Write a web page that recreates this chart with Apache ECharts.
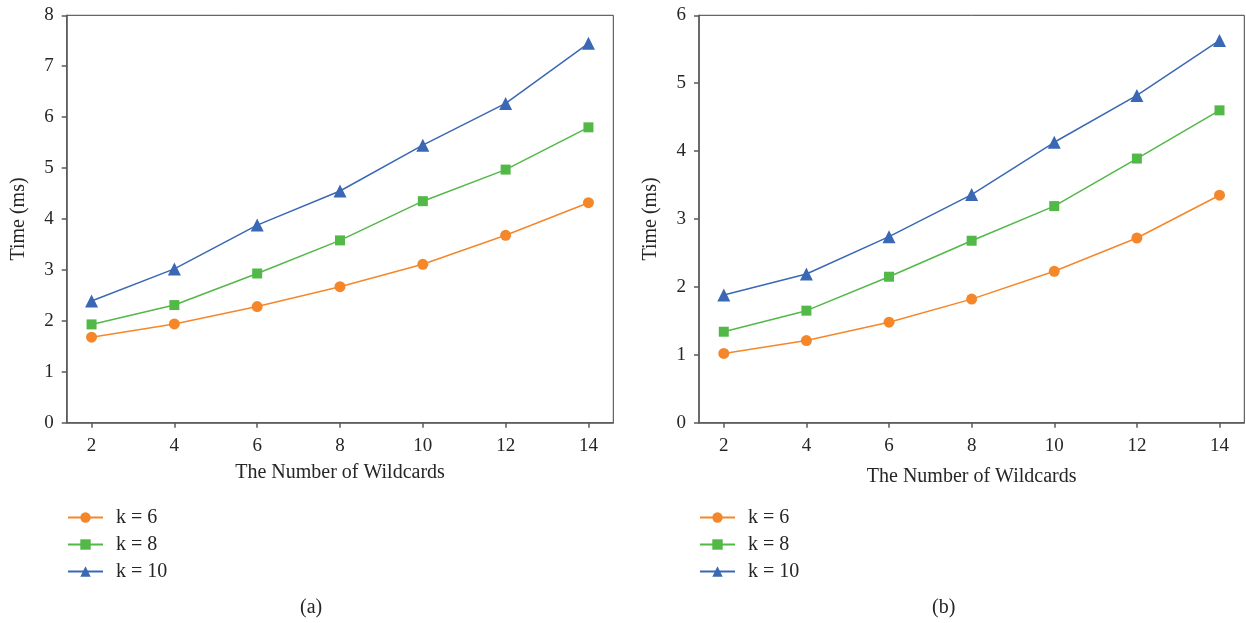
<!DOCTYPE html>
<html>
<head>
<meta charset="utf-8">
<script src="https://cdn.jsdelivr.net/npm/echarts@6/dist/echarts.min.js"></script>
<style>
html,body{margin:0;padding:0;background:#fff;}
#c{width:1246px;height:623px;}
</style>
</head>
<body>
<div id="c"></div>
<script>
// ---- data ----
const wildcards = [2, 4, 6, 8, 10, 12, 14];
const seriesNames = ['k = 6', 'k = 8', 'k = 10'];
// panel (a)
const a_k6  = [1.68, 1.94, 2.28, 2.67, 3.11, 3.68, 4.32];
const a_k8  = [1.93, 2.31, 2.93, 3.58, 4.35, 4.97, 5.80];
const a_k10 = [2.39, 3.02, 3.88, 4.55, 5.45, 6.27, 7.45];
// panel (b)
const b_k6  = [1.02, 1.21, 1.48, 1.82, 2.23, 2.72, 3.35];
const b_k8  = [1.34, 1.65, 2.15, 2.68, 3.19, 3.89, 4.60];
const b_k10 = [1.88, 2.19, 2.74, 3.36, 4.13, 4.82, 5.63];
const yTicksA = [0, 1, 2, 3, 4, 5, 6, 7, 8];
const yTicksB = [0, 1, 2, 3, 4, 5, 6];
const xTitle = 'The Number of Wildcards';
const yTitle = 'Time (ms)';
const captions = ['(a)', '(b)'];

const FONT = '"Liberation Serif", "DejaVu Serif", serif';
const TXT = '#262626';
const colors = ['#F5872A', '#52B848', '#3A68B5'];
const symbols = ['circle', 'rect', 'triangle'];
const symSizes = [11, 10, 13];

function pairs(vals) { return wildcards.map((x, i) => [x, vals[i]]); }

function xAxisFor(gi, nameGap) {
  return {
    type: 'value', gridIndex: gi, min: 1.4, max: 14.6,
    name: xTitle, nameLocation: 'middle', nameGap: nameGap,
    nameTextStyle: {fontFamily: FONT, fontSize: 20, color: TXT},
    axisLine: {show: true, lineStyle: {color: '#595959', width: 1.5}},
    axisTick: {show: true, length: 5, customValues: wildcards, lineStyle: {color: '#595959', width: 1.5}},
    axisLabel: {customValues: wildcards, fontFamily: FONT, fontSize: 19, color: TXT, margin: 14},
    splitLine: {show: false}
  };
}
function yAxisFor(gi, ticks) {
  return {
    type: 'value', gridIndex: gi, min: ticks[0], max: ticks[ticks.length - 1], interval: 1,
    name: yTitle, nameLocation: 'middle', nameGap: 38,
    nameTextStyle: {fontFamily: FONT, fontSize: 20, color: TXT},
    axisLine: {show: true, lineStyle: {color: '#595959', width: 1.5}},
    axisTick: {show: true, length: 5, lineStyle: {color: '#595959', width: 1.5}},
    axisLabel: {fontFamily: FONT, fontSize: 19, color: TXT, margin: 13},
    splitLine: {show: false}
  };
}
function mk(name, data, idx, gi) {
  return {
    name: name, type: 'line', xAxisIndex: gi, yAxisIndex: gi, data: pairs(data),
    symbol: symbols[idx], symbolSize: symSizes[idx], showSymbol: true,
    lineStyle: {color: colors[idx], width: 1.5},
    itemStyle: {color: colors[idx]},
    animation: false, z: 3 + idx
  };
}
function legendFor(left) {
  return {
    orient: 'vertical', left: left, top: 507.5, padding: 0, itemWidth: 35, itemHeight: 13, itemGap: 7,
    data: seriesNames,
    textStyle: {fontFamily: FONT, fontSize: 20, color: TXT, padding: [0, 0, 0, 8]},
    selectedMode: false
  };
}

const chart = echarts.init(document.getElementById('c'), null, {renderer: 'canvas'});
chart.setOption({
  backgroundColor: '#fff',
  animation: false,
  grid: [
    {left: 66.7, top: 15.3, width: 546.6, height: 407.4, show: true, borderColor: '#404040', borderWidth: 1, containLabel: false},
    {left: 699, top: 15.3, width: 545.3, height: 407.4, show: true, borderColor: '#404040', borderWidth: 1, containLabel: false}
  ],
  xAxis: [xAxisFor(0, 40), xAxisFor(1, 44)],
  yAxis: [yAxisFor(0, yTicksA), yAxisFor(1, yTicksB)],
  legend: [legendFor(67), legendFor(699)],
  series: [
    mk(seriesNames[0], a_k6, 0, 0), mk(seriesNames[1], a_k8, 1, 0), mk(seriesNames[2], a_k10, 2, 0),
    mk(seriesNames[0], b_k6, 0, 1), mk(seriesNames[1], b_k8, 1, 1), mk(seriesNames[2], b_k10, 2, 1)
  ],
  graphic: [
    {type: 'text', left: 300, top: 598, style: {text: captions[0], font: '20px ' + FONT, fill: TXT}},
    {type: 'text', left: 932, top: 598, style: {text: captions[1], font: '20px ' + FONT, fill: TXT}}
  ]
});
</script>
</body>
</html>
